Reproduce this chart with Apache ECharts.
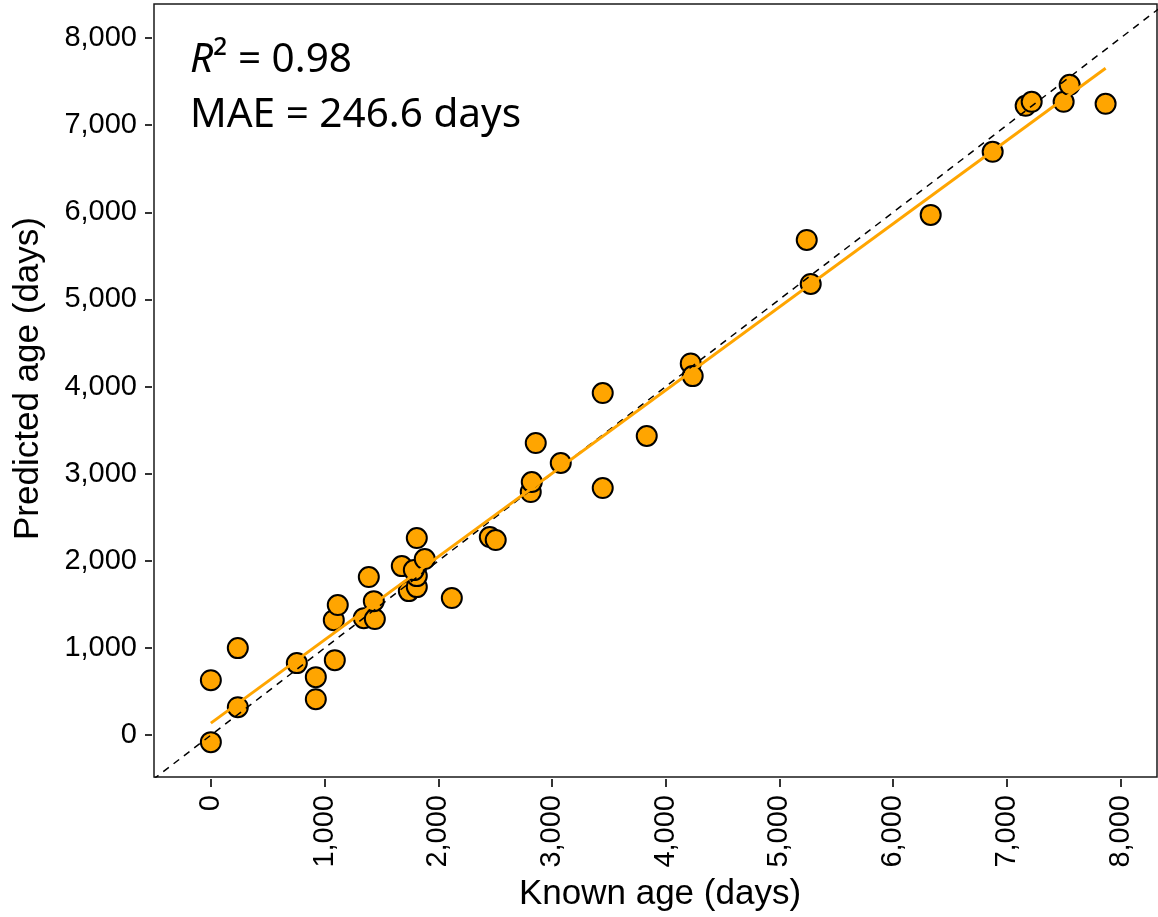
<!DOCTYPE html>
<html>
<head>
<meta charset="utf-8">
<script src="https://cdn.jsdelivr.net/npm/echarts@6/dist/echarts.min.js"></script>
<style>
  html, body { margin: 0; padding: 0; background: #fff; }
  #container { width: 1158px; height: 917px; }
</style>
</head>
<body>
<div id="container"></div>
<script>
// known vs predicted age (days)
var knownAge = [0, 0, 237, 237, 756, 923, 923, 1090, 1081, 1116,
    1345, 1442, 1433, 1389, 1679, 1741, 1811, 1811, 1785, 1811,
    1881, 2119, 2453, 2505, 2813, 2822, 2857, 3077, 3446, 3446,
    3833, 4220, 4237, 5240, 5275, 6330, 6875, 7165, 7218, 7499,
    7552, 7868];
var predictedAge = [-80, 631, 999, 321, 827, 666, 413, 861, 1320, 1493,
    1343, 1332, 1538, 1814, 1940, 1653, 1699, 1825, 1894, 2262,
    2021, 1573, 2273, 2239, 2790, 2905, 3352, 3123, 2836, 3926,
    3433, 4265, 4120, 5683, 5178, 5970, 6694, 7222, 7268, 7268,
    7463, 7245];
var tickValues = [0, 1000, 2000, 3000, 4000, 5000, 6000, 7000, 8000];
var identityEnds = [-600, 8500];

var points = [];
for (var i = 0; i < knownAge.length; i++) points.push([knownAge[i], predictedAge[i]]);

// least squares fit, drawn across the known age range
function fitLine(xs, ys){
    var n = xs.length, mx = 0, my = 0;
    for (var i = 0; i < n; i++) { mx += xs[i]; my += ys[i]; }
    mx /= n; my /= n;
    var sxy = 0, sxx = 0;
    for (var j = 0; j < n; j++) {
        sxy += (xs[j] - mx) * (ys[j] - my);
        sxx += (xs[j] - mx) * (xs[j] - mx);
    }
    var b = sxy / sxx, a = my - b * mx;
    var x0 = Math.min.apply(null, xs), x1 = Math.max.apply(null, xs);
    return [[x0, a + b * x0], [x1, a + b * x1]];
}

function fmt(v){
    return v.toString().replace(/\B(?=(\d{3})+(?!\d))/g, ',');
}

var myChart = echarts.init(document.getElementById('container'));
var font = 'Liberation Sans, Arial, Helvetica, sans-serif';

var option = {
    backgroundColor: '#fff',
    animation: false,
    grid: {
        left: 154, top: 4, right: 1, bottom: 140,
        outerBoundsMode: 'none',
        containLabel: false,
        show: true, borderColor: '#1a1a1a', borderWidth: 1.5,
        backgroundColor: 'transparent'
    },
    xAxis: {
        type: 'value',
        min: -500, max: 8320,
        offset: 2,
        splitLine: { show: false },
        axisLine: { show: false, onZero: false },
        axisTick: { show: true, length: 8, lineStyle: { color: '#333', width: 2 }, customValues: tickValues },
        axisLabel: {
            customValues: tickValues, rotate: 90, margin: 16,
            color: '#000', fontSize: 29, fontFamily: font,
            formatter: fmt
        },
        name: 'Known age (days)',
        nameLocation: 'middle',
        nameGap: 98,
        nameTextStyle: { color: '#000', fontSize: 35, fontFamily: font, padding: [0, 0, 0, 9] }
    },
    yAxis: {
        type: 'value',
        min: -480, max: 8390,
        offset: 2,
        splitLine: { show: false },
        axisLine: { show: false, onZero: false },
        axisTick: { show: true, length: 7, lineStyle: { color: '#333', width: 2 }, customValues: tickValues },
        axisLabel: {
            customValues: tickValues, margin: 15,
            color: '#000', fontSize: 29, fontFamily: font,
            formatter: fmt
        },
        name: 'Predicted age (days)',
        nameLocation: 'middle',
        nameGap: 106,
        nameTextStyle: { color: '#000', fontSize: 35, fontFamily: font, padding: [0, 0, 0, 24] }
    },
    series: [
        {
            type: 'scatter',
            data: points,
            symbolSize: 20,
            z: 2,
            itemStyle: { color: '#FFA500', borderColor: '#000', borderWidth: 2, opacity: 1 }
        },
        {
            type: 'line',
            data: [[identityEnds[0], identityEnds[0]], [identityEnds[1], identityEnds[1]]],
            showSymbol: false,
            clip: true,
            z: 3,
            lineStyle: { color: '#000', width: 1.5, type: [7, 6] }
        },
        {
            type: 'line',
            data: fitLine(knownAge, predictedAge),
            showSymbol: false,
            clip: true,
            z: 4,
            lineStyle: { color: '#FFA500', width: 3 }
        }
    ],
    graphic: [
        {
            type: 'text', left: 190, top: 40, z: 10,
            style: {
                text: '{i|R}{n|² = 0.98}',
                rich: {
                    i: { fontSize: 40.5, fontStyle: 'italic', fontFamily: 'Noto Sans', fill: '#000' },
                    n: { fontSize: 40.5, fontFamily: 'Noto Sans', fill: '#000' }
                }
            }
        },
        {
            type: 'text', left: 190, top: 95, z: 10,
            style: { text: 'MAE = 246.6 days', fontSize: 40.5, fontFamily: 'Noto Sans', fill: '#000' }
        }
    ]
};
myChart.setOption(option);
</script>
</body>
</html>
